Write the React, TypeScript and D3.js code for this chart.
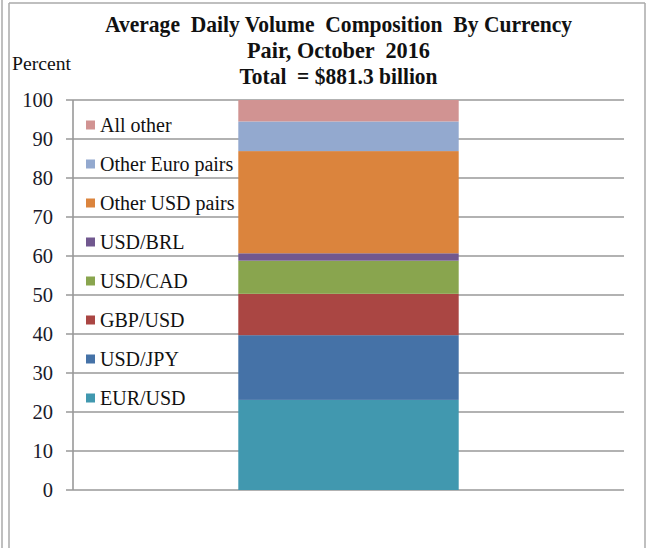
import * as d3 from 'd3'

const categories = ['EUR/USD', 'USD/JPY', 'GBP/USD', 'USD/CAD', 'USD/BRL', 'Other USD pairs', 'Other Euro pairs', 'All other']
const shares = [23.1, 16.6, 10.6, 8.5, 1.9, 26.2, 7.6, 5.5]
const colors = ['#4198af', '#4572a7', '#aa4643', '#89a54e', '#71588f', '#db843d', '#93a9cf', '#d19392']
const yTicks = [0, 10, 20, 30, 40, 50, 60, 70, 80, 90, 100]
const titleLines = ['Average  Daily Volume  Composition  By Currency', 'Pair, October  2016', 'Total  = $881.3 billion']
const titleWidths = [467, 183, 198]

const W = 647
const H = 548
const font = '"Liberation Serif", "Times New Roman", serif'

export default function App() {
  const plot = { left: 73, right: 624, top: 100, bottom: 490 }

  const y = d3.scaleLinear().domain([0, 100]).range([plot.bottom, plot.top])
  const x = d3.scaleBand().domain(['Oct 2016']).range([plot.left, plot.right]).paddingInner(0.6).paddingOuter(0.3)

  // cumulative stack
  const row: Record<string, number> = {}
  categories.forEach((c, i) => { row[c] = shares[i] })
  const stacked = d3.stack<Record<string, number>>().keys(categories)([row])

  const bx = x('Oct 2016')!
  const bw = x.bandwidth()

  return (
    <svg width={W} height={H} style={{ position: 'absolute', left: 0, top: 0, background: '#fff', fontFamily: font }}>
      {/* frame */}
      <line x1={2} x2={2} y1={0} y2={H} stroke="#aaa" strokeWidth={1.5} />
      <line x1={9} x2={9} y1={3} y2={H} stroke="#aaa" strokeWidth={1.5} />
      <line x1={9} x2={645} y1={3} y2={3} stroke="#aaa" strokeWidth={1.5} />
      <line x1={645} x2={645} y1={3} y2={H} stroke="#aaa" strokeWidth={1.5} />

      {/* title */}
      {titleLines.map((t, i) => (
        <text key={t} x={338.5} y={32 + i * 26} textAnchor="middle" fontWeight="bold" fontSize={22.5} fill="#111"
          textLength={titleWidths[i]} lengthAdjust="spacingAndGlyphs" style={{ whiteSpace: 'pre' }}>
          {t}
        </text>
      ))}
      <text x={12} y={70} fontSize={18} fill="#111" textLength={59} lengthAdjust="spacingAndGlyphs">Percent</text>

      {/* gridlines */}
      {yTicks.map(t => (
        <g key={t}>
          <line x1={66} x2={plot.right} y1={y(t)} y2={y(t)} stroke="#999" strokeWidth={1.6} />
          <text x={53} y={y(t)} dy="0.35em" textAnchor="end" fontSize={20.5} fill="#1a1a2a">{t}</text>
        </g>
      ))}
      <line x1={plot.left} x2={plot.left} y1={plot.top} y2={plot.bottom} stroke="#999" strokeWidth={1.6} />

      {/* stacked bar */}
      {stacked.map((s, i) => (
        <rect key={s.key} x={bx} width={bw} y={y(s[0][1])} height={y(s[0][0]) - y(s[0][1])} fill={colors[i]} />
      ))}

      {/* legend, top item first */}
      {categories.slice().reverse().map((c, j) => {
        const i = categories.length - 1 - j
        const cy = y(95 - j * 10) + 5.5
        return (
          <g key={c}>
            <rect x={86} y={cy - 4.5} width={9} height={9} fill={colors[i]} />
            <text x={100} y={cy} dy="0.35em" fontSize={20} fill="#111">{c}</text>
          </g>
        )
      })}
    </svg>
  )
}
